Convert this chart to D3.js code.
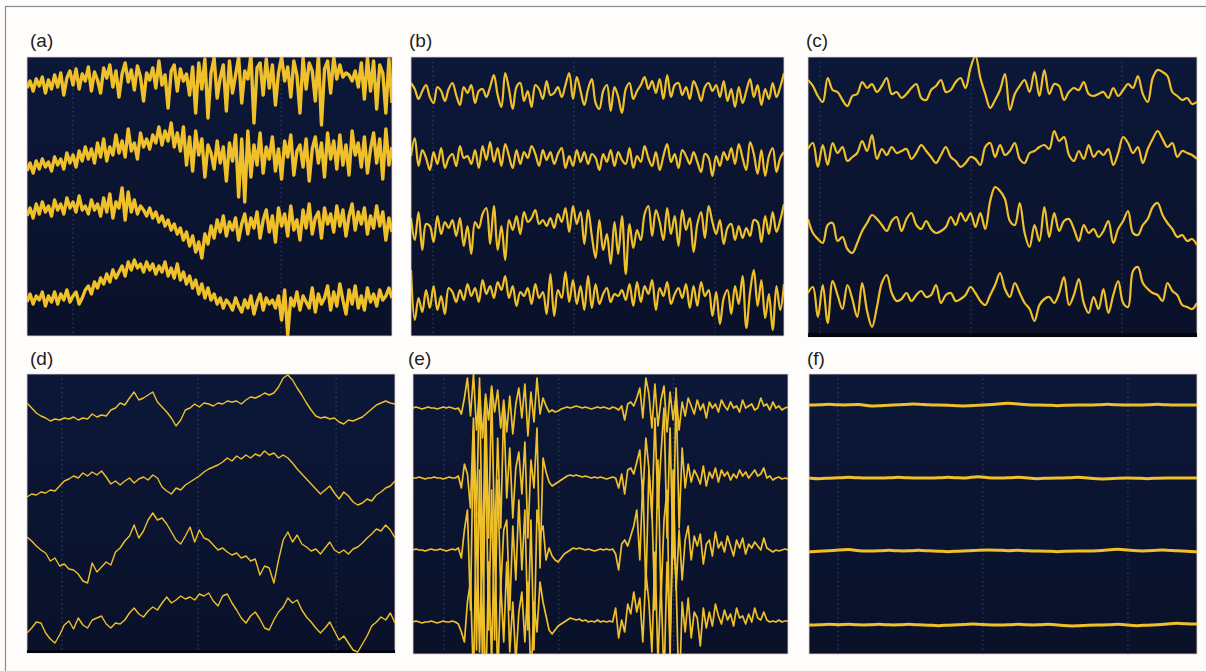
<!DOCTYPE html>
<html>
<head>
<meta charset="utf-8">
<script src="https://cdn.jsdelivr.net/npm/d3@7/dist/d3.min.js"></script>
<style>
  body { margin: 0; background: #fdfcfb; }
  svg { display: block; }
</style>
</head>
<body>
<div id="chart"></div>
<script>
// panel labels
const labels = ['(a)', '(b)', '(c)', '(d)', '(e)', '(f)'];

// channel offsets (baseline of each trace, in panel units from the bottom)
const offsetsA = [253, 179, 114, 46];
const offsetsB = [243, 176, 106, 36];
const offsetsC = [247, 184, 110, 40];
const offsetsD = [243, 173, 108, 35];
const offsetsE = [246, 176, 104, 32];
const offsetsF = [249, 176, 103, 29];

// time divisions (fraction of the window) shown as dotted lines
const gridA = [0.126, 0.696];
const gridB = [0.059, 0.437, 0.815];
const gridC = [0.031, 0.419, 0.807];
const gridD = [0.095, 0.465, 0.840];
const gridE = [0.083, 0.389, 0.695];
const gridF = [0.075, 0.448, 0.822];

// (a) traces
const chA1 = [-5, 2, -8, 4, -3, 6, -10, 3, -6, 8, -4, 10, -12, 5, 12, -2, 14, -6, 9, 2,
  16, -8, 11, 3, -10, 15, 5, 18, -4, 12, -14, 9, 20, 1, 13, -7, 17, 6, -18, 10,
  3, 15, -5, 22, -2, 8, -25, 12, 18, -8, 14, 2, 9, -12, 16, -30, 20, -6, 24, -35,
  10, 25, -15, 5, 18, -28, 22, -10, 8, 26, -20, 12, 4, 28, -40, 15, 20, -12, 24, -5,
  18, -22, 10, 26, 2, 16, -14, 22, 8, -30, 25, -6, 20, 12, -18, 28, -42, 14, 22, -10,
  26, 4, 18, 6, 10, 8, 2, 12, -4, 20, -16, 25, -8, 22, -26, 18, 10, -30, 24, -20];
const chA2 = [-14, -6, -16, -4, -12, -2, -10, -5, -14, 0, -8, -2, -12, 4, -6, 2, -10, 6, -4, 10,
  -2, 8, -6, 14, 0, 18, -4, 10, 2, 22, 4, 16, 0, 28, 6, 14, -2, 24, 10, 18,
  8, 22, 14, 30, 12, 26, 16, 34, 10, 24, 6, 30, -8, 20, -14, 26, 2, 18, -20, 12,
  4, -12, 16, -6, 10, -24, 14, -4, 22, -40, 18, -45, 26, -20, 12, -8, 24, -16, 10, -2,
  20, -14, 8, -22, 16, 0, 22, -18, 6, 12, -10, 18, -24, 8, 20, -6, 14, -20, 24, -2,
  16, -12, 22, -8, 12, -18, 26, 2, 14, -10, 20, -16, 8, 24, -6, 18, -22, 28, -8, 10];
const chA3 = [6, 14, 4, 18, 8, 20, 10, 16, 6, 22, 12, 18, 8, 24, 14, 20, 10, 26, 12, 16,
  8, 22, 12, 18, 6, 24, 10, 28, 4, 20, 14, 34, 2, 30, 10, 22, 8, 16, 12, 6,
  14, 4, 10, 0, 6, -4, 2, -8, -2, -12, -6, -18, -10, -24, -14, -30, -20, -36, -12, -22,
  -4, -16, 2, -10, 6, -14, 0, -8, 4, -18, -2, 8, -12, 4, -6, 10, -16, 2, 12, -10,
  6, -20, 14, -4, 8, -14, 16, -8, 2, -18, 12, -6, 18, -12, 4, 10, -16, 14, -2, 8,
  -10, 16, -4, 12, -14, 6, 18, -8, 10, -2, 14, -12, 6, -6, 16, -4, 10, -18, 4, -10];
const chA4 = [-12, -4, -14, -6, -10, -2, -16, -6, -12, -2, -14, -4, -10, 0, -12, -6, -2, -14, -8, 0,
  4, -4, 8, 2, 12, 6, 16, 8, 20, 12, 18, 24, 14, 28, 20, 30, 22, 26, 18, 28,
  20, 26, 16, 24, 18, 28, 14, 22, 12, 26, 10, 18, 6, 14, 2, 10, -4, 6, -8, 2,
  -10, -4, -14, -8, -18, -10, -14, -20, -8, -16, -22, -10, -18, -6, -24, -12, -4, -20, -8, -14,
  -10, -18, -6, -30, 0, -45, -8, -16, -2, -20, -6, -12, -18, 2, -22, -4, -14, -8, 4, -20,
  -2, -16, 6, -10, -24, 0, -14, 4, -18, -6, -20, 2, -12, -4, -16, 0, -10, -6, 2, -8];

// (b) traces
const chB1 = [10, 4, -6, 2, 8, -4, -10, 6, 2, -8, 4, 10, -2, -12, 6, 0, 8, -10, 2, 4,
  -4, 6, 18, -2, -14, 20, 4, -16, 6, 10, -8, 2, -14, 8, 4, -6, 12, -2, 0, 6,
  -4, 8, 20, -6, 16, 2, -12, 4, 14, -10, -16, 2, 8, -18, 6, -4, -20, 4, 10, -6,
  2, 8, 16, 4, 12, 0, 14, -6, 18, -4, 8, 10, -2, 6, -6, 12, 4, -8, 6, 10,
  2, 8, -4, 12, -8, 4, -14, 6, -10, 2, 14, -4, 8, -12, 4, -6, 10, -4, 6, 20];
const chB2 = [4, 22, -6, 10, 2, -10, 8, -4, 12, -8, 2, 6, -6, 14, 2, 4, -4, 10, -8, 14,
  0, 18, -2, 12, -6, 16, 4, -8, 10, -4, 8, 2, 14, 6, -6, 10, 0, 8, -4, 6,
  12, -8, 4, -6, 10, -2, 8, -4, 6, 2, -10, 6, -2, 10, -6, 8, 0, -4, 12, -8,
  4, -2, 14, 2, -6, 8, -10, 4, 16, -2, 6, -8, 10, 4, -4, 8, -2, -12, 6, 2,
  -16, 4, -6, 8, 0, 12, -4, 16, 2, -10, 18, 6, -14, 10, -16, 4, 12, -12, 2, 8];
const chB3 = [12, -10, 18, -20, 6, 4, -12, 14, -4, 8, 2, 10, -6, 12, -16, 4, -24, 8, 2, 16,
  22, -14, 24, -20, 4, -30, 10, 0, 14, -4, 18, 8, 12, 20, 6, 10, 4, 12, 2, 16,
  8, 22, -2, 24, 6, 18, -14, 20, -6, -28, 10, -20, -4, -34, 8, -24, 14, -44, 6, -18,
  0, -10, 16, 24, -6, 20, 8, -10, 22, -4, 14, -16, 20, 0, 12, -22, 6, 18, -8, 24,
  8, -4, 10, -14, 2, 6, -10, 4, -8, 2, -6, 10, 8, -12, 14, -4, 18, -2, 10, 26];
const chB4 = [30, -20, 2, -12, 10, -8, 14, -10, 4, -14, 12, 8, -2, 10, 0, 16, 4, 12, -2, 20,
  6, 14, 2, 18, 10, 24, 2, 14, -6, 8, 4, 12, -4, 16, 2, 8, -14, 26, -16, 10,
  2, 28, -2, 20, -4, 14, -10, 24, -8, 16, -4, 6, 12, -2, 6, 4, 10, 0, 16, -6,
  18, -2, 14, 6, 20, -10, 12, 4, 18, -4, 6, 12, 2, 16, -8, 14, -6, 18, 4, 10,
  -16, 8, -24, 2, 10, -14, 14, -4, 24, -28, 8, 30, -6, 20, -18, 6, -30, 14, -10, 16];

// (c) traces
const chC1 = [10, 4, -6, -12, 12, 0, -2, -10, -16, -6, -4, 8, 2, 6, -2, 4, 12, -4, -2, -8,
  -4, 2, 6, -8, -10, 0, 4, 10, -2, 0, 8, 12, 2, 22, 34, 12, -4, -18, -10, 0,
  16, -20, -4, 4, 10, -2, 18, -6, 20, -4, 6, 4, -10, -2, 2, 0, 8, -4, -6, -4,
  -2, -8, 2, -6, 0, 6, 2, 14, -4, -12, 12, 20, 18, 14, -2, -6, -10, -8, -14, -12];
const chC2 = [4, 10, -14, 8, -12, 10, 0, 6, -8, -4, 0, 12, 2, 18, -6, 4, -2, 6, 0, 2,
  4, -6, 0, 8, 2, -4, -10, -2, 6, -4, -8, -14, -10, -4, -6, -12, 6, 10, -4, 8,
  -2, 2, 10, -6, -10, 0, 2, 6, 8, 4, 22, 12, 16, -2, -8, 2, -6, 8, -4, 2,
  -2, 4, -12, 0, 16, 10, 0, 6, -10, 4, 14, 22, 14, 6, 10, -4, 2, 0, -2, -6];
const chC3 = [8, -6, -12, -16, 2, 4, -14, -10, -22, -26, -16, -4, 4, 12, 8, 2, -4, 6, 10, -4,
  8, 14, 2, -2, 6, -2, -6, -4, 0, 10, 2, 14, 6, 14, 0, 14, -2, 26, 40, 36,
  28, 6, 2, 24, -6, -20, 2, -14, 20, -10, 14, -4, 6, 8, -2, -14, 2, -6, -2, -10,
  -4, 6, -16, -2, 6, 16, -6, -8, 2, 8, 20, 24, 12, 4, -2, -10, -8, -14, -12, -18];
const chC4 = [4, 10, -20, 12, -26, 16, 2, -12, 12, -2, -20, 14, -14, -30, -10, 14, 22, 4, -4, -2,
  4, -4, 2, 6, 0, 2, 12, -6, 2, 4, -4, -2, 2, 10, 4, -4, -8, 2, 12, 24,
  8, 0, 14, 4, -6, -12, -24, -8, -2, 0, -6, 4, 20, -8, 2, 18, -6, -16, 0, -12,
  8, -16, 2, 16, -6, -10, 26, 30, 14, 8, 4, 2, -4, 14, 6, 2, -8, -10, -12, -6];

// (d) traces
const chD1 = [7, 2, -3, -6, -8, -11, -9, -10, -8, -9, -7, -10, -8, -9, -4, -7, -5, -6, 0, 2,
  7, 5, 12, 18, 10, 12, 15, 18, 8, 3, -2, -8, -16, -10, 0, 2, 6, 3, 7, 6,
  4, 7, 6, 9, 8, 9, 6, 10, 13, 12, 14, 17, 15, 17, 23, 32, 35, 30, 22, 15,
  7, 0, -6, -8, -7, -9, -8, -12, -14, -10, -11, -9, -7, -3, 1, 5, 7, 9, 7, 6];
const chD2 = [-17, -14, -15, -12, -13, -10, -11, -6, -1, 1, 4, 2, 7, 4, 8, 5, 9, 3, -4, -1,
  -5, -1, 2, -3, 1, 3, 0, 5, 2, -7, -11, -14, -8, -10, -5, -2, 1, 4, 8, 11,
  13, 15, 18, 22, 19, 24, 21, 25, 22, 26, 24, 29, 25, 27, 22, 25, 22, 17, 11, 6,
  1, -4, -9, -14, -10, -6, -13, -19, -12, -16, -22, -25, -23, -19, -21, -15, -12, -8, -6, -1];
const chD3 = [8, 4, -1, -5, -8, -16, -13, -21, -19, -24, -25, -29, -36, -38, -18, -27, -22, -17, -20, -7,
  -3, 4, 9, 20, 7, 14, 25, 32, 25, 27, 21, 13, 5, 1, 9, 18, 3, 15, 7, 5,
  0, -5, -3, -7, -10, -8, -13, -11, -16, -14, -30, -21, -23, -38, -15, 5, 13, 3, 10, 1,
  -2, -6, -4, -9, -3, 3, -5, -8, -5, -9, -4, -2, 2, 7, 11, 16, 14, 20, 15, 7];
const chD4 = [-15, -10, -4, -5, -15, -21, -25, -17, -7, -3, -11, 0, -7, -10, -2, 0, 2, -6, -10, -5,
  -6, -2, 5, 10, 4, 1, 7, 11, 8, 15, 21, 15, 18, 22, 19, 21, 18, 24, 22, 25,
  17, 12, 22, 24, 15, 8, 0, -5, 2, 6, -1, -10, -12, -2, 6, 11, 20, 15, 18, 8,
  1, -4, -10, -15, -10, -4, -13, -22, -18, -25, -32, -34, -26, -18, -8, -4, 1, -2, 5, -5];

// (e) traces
const chE1 = [0, 1, 0, -1, 0, 1, 0, 0, -1, 0, 1, 0, 1, 0, -1, 0,
  -6, 10, 30, -8, 34, -22, 20, -30, 14, -12, 22, -4, 18, -20, 8, -24, 12, -26, 4, 20, -10, 24, -28, 16, -14, 30, -6, 10, 2, -4,
  -2, -4, -3, -1, 0, 1, 0, 1, 2, 1, 0, 1, 0, -1, 0, 1, 0, 1, 0, -1, 1, 0, -2, 2,
  -12, 4, 6, 2, 10, 20, -10, 30, 14, -20, 24, -18, 8, 22, -24, 16, -12, 14, -22, 6, -8, 10,
  2, -6, 8, -2, 4, -10, 6, 0, 4, -4, 8, 2, -2, 6, 0, 2, -4, 8, 0, 2, 4, -2, 0, 10, 2, 4, -2, 6, 0, 2, -2, 0, 1];
const chE2 = [0, 0, 1, 0, -1, 0, 0, 1, 0, 0, -1, 0, 1, 0, 0, 2,
  -10, 14, 4, -30, 60, -40, 100, -90, 80, -60, 90, -70, 40, -50, 70, -20, 30, -40, 10, 26, -16, 36, -60, 18, -10, 50, -90, 20, 6, -4,
  -8, -6, -4, -2, 0, 2, 3, 2, 3, 2, 1, 2, 1, 0, 1, 0, 1, 0, -1, 0, 1, 0, -10, 4,
  -16, 8, 10, 4, 16, 28, -20, 40, 10, -40, 60, -30, 24, 70, -60, 50, -80, 90, -50, 30, -10, 14,
  -4, 8, 2, -6, 12, -8, 6, 0, 10, -4, 8, 2, 6, -2, 4, 0, 8, 2, 6, 0, 4, 8, 2, 4, 10, 0, 2, -2, 0, 1, -1, 0, -1];
const chE3 = [0, 1, 0, 0, -1, 0, 1, 0, 0, 1, 0, -1, 0, 1, 0, 2,
  -8, 20, 40, -60, 120, -100, 80, -120, 110, -80, 60, -90, 70, -40, 20, 30, -60, 24, -30, 50, -20, 40, -80, 30, -100, 40, 16, 24, -10, 2,
  -6, -10, -12, -8, -4, -2, 0, 2, 1, 2, 1, 0, 1, 0, -1, 0, 1, 0, 1, 0, 1, -4, -20, 6,
  10, 4, 14, 24, 40, -10, 70, -40, 80, 40, -60, 90, -50, 30, 60, -110, 80, -40, 20, -30, 10, 24,
  -10, 14, 4, 16, -14, 6, 10, -6, 18, 2, 8, -2, 14, 4, -6, 10, 2, 12, -4, 6, 2, 8, 4, 0, 12, 2, 0, -2, 0, -1, 0, 1, 0];
const chE4 = [0, 1, 0, -1, 0, 0, 1, 0, -1, 0, 1, 0, 0, 1, 0, -2,
  -10, -20, 20, 40, -60, 110, -30, 90, -80, 60, -40, 100, -60, 40, -20, 60, -30, 20, -40, 10, 30, -20, 40, -60, 20, -10, 40, 20, 6, -8,
  -12, -8, -4, -2, 0, 2, 4, 3, 2, 3, 1, 2, 0, 1, 0, 2, 0, 1, 0, 1, 0, 14, -16, 2,
  -10, 18, 8, 30, 10, 24, -20, 50, 20, -30, 70, -40, 40, -60, 60, -20, 90, 40, -80, 20, -10, 24,
  -16, 10, 4, -24, 14, -6, 10, -4, 18, 6, -2, 12, 2, 8, -4, 14, 4, 6, -2, 8, 0, 14, 4, 2, 10, 2, 0, 1, 0, 2, 0, 1, 1];

// (f) traces
const chF1 = [0, 0, 1, 0, 0, 1, -1, -1, 0, 0, 1, 1, 0, 0, 0, -1, -1, 0, 0, 1, 2, 1, 0, 0, 0, -1, 0, 0, 0, 0, 1, 0, 0, 0, 0, 1, 0, 0, 0, 0];
const chF2 = [0, -1, 0, 0, 1, 0, 0, 0, 0, 1, 0, 0, 0, 0, 1, 0, 0, 2, 0, 0, 0, 1, 0, -1, 0, 0, 0, 1, 0, -1, -1, 0, 0, 0, -1, 0, 0, 0, 0, 0];
const chF3 = [-1, 0, 0, 1, 2, 0, 0, 0, 1, 0, 0, 1, 0, 0, -1, 0, 0, 1, 1, 1, 0, 1, 0, 0, 0, -1, 0, 0, 0, 0, 1, 2, 1, 0, 0, 1, 1, 0, 0, -1];
const chF4 = [0, 0, 1, 0, 1, 0, 0, 1, 0, 0, 1, 0, 0, -1, 0, 0, 1, 1, 0, 0, 0, 1, 0, 0, 1, 0, -1, -1, 0, 0, 0, 1, 0, -1, 0, 0, 1, 2, 1, 1];

const width = 1206, height = 671;
const svg = d3.select('#chart').append('svg')
    .attr('width', width)
    .attr('height', height);

const defs = svg.append('defs');

// outer frame
svg.append('rect')
    .attr('x', 5.5).attr('y', 6.5)
    .attr('width', 1220).attr('height', 690)
    .attr('fill', '#fefdfc')
    .attr('stroke', '#8a8a8a')
    .attr('stroke-width', 1.2);

// background gradient of the scope panels
const grad = defs.append('linearGradient')
    .attr('id', 'bg').attr('x1', 0).attr('x2', 0).attr('y1', 0).attr('y2', 1);
grad.append('stop').attr('offset', '0%').attr('stop-color', '#0c1839');
grad.append('stop').attr('offset', '100%').attr('stop-color', '#0a1129');

const panels = [
    {label: labels[0], x0: 27, x1: 392, y0: 57, y1: 336, traces: [chA1, chA2, chA3, chA4], offsets: offsetsA, grid: gridA, stroke: 3.4, curve: d3.curveLinear, lx: 30, ly: 47, strip: 0},
    {label: labels[1], x0: 411, x1: 784, y0: 57, y1: 336, traces: [chB1, chB2, chB3, chB4], offsets: offsetsB, grid: gridB, stroke: 2.2, curve: d3.curveCatmullRom, lx: 409, ly: 47, strip: 0},
    {label: labels[2], x0: 808, x1: 1197, y0: 57, y1: 337, traces: [chC1, chC2, chC3, chC4], offsets: offsetsC, grid: gridC, stroke: 2.2, curve: d3.curveCatmullRom, lx: 806, ly: 47, strip: 4},
    {label: labels[3], x0: 27, x1: 395, y0: 374, y1: 653, traces: [chD1, chD2, chD3, chD4], offsets: offsetsD, grid: gridD, stroke: 1.4, curve: d3.curveLinear, lx: 30, ly: 365, strip: 3},
    {label: labels[4], x0: 413, x1: 788, y0: 374, y1: 654, traces: [chE1, chE2, chE3, chE4], offsets: offsetsE, grid: gridE, stroke: 1.7, curve: d3.curveLinear, lx: 408, ly: 365, strip: 0},
    {label: labels[5], x0: 809, x1: 1197, y0: 374, y1: 654, traces: [chF1, chF2, chF3, chF4], offsets: offsetsF, grid: gridF, stroke: 3, curve: d3.curveBasis, lx: 807, ly: 365, strip: 0}
];

panels.forEach(function (p, pi) {
    const g = svg.append('g');

    // label
    svg.append('text')
        .attr('x', p.lx).attr('y', p.ly)
        .attr('font-family', 'Liberation Sans, Arial, sans-serif')
        .attr('font-size', 19)
        .attr('fill', '#1e1e1e')
        .text(p.label);

    // clip so that large bursts stay inside the screen
    defs.append('clipPath')
        .attr('id', 'clip' + pi)
        .append('rect')
        .attr('x', p.x0).attr('y', p.y0)
        .attr('width', p.x1 - p.x0).attr('height', p.y1 - p.y0);

    g.append('rect')
        .attr('x', p.x0).attr('y', p.y0)
        .attr('width', p.x1 - p.x0).attr('height', p.y1 - p.y0)
        .attr('fill', 'url(#bg)')
        .attr('stroke', '#ecd2c8')
        .attr('stroke-width', 0.8);

    if (p.strip) {
        g.append('rect')
            .attr('x', p.x0).attr('y', p.y1 - p.strip)
            .attr('width', p.x1 - p.x0).attr('height', p.strip)
            .attr('fill', '#03060e');
    }

    // dotted time divisions
    const gx = d3.scaleLinear().domain([0, 1]).range([p.x0, p.x1]);
    g.selectAll('.grid')
        .data(p.grid)
        .enter().append('line')
        .attr('class', 'grid')
        .attr('x1', function (d) { return gx(d); })
        .attr('x2', function (d) { return gx(d); })
        .attr('y1', p.y0).attr('y2', p.y1 - p.strip)
        .attr('stroke', '#34486e')
        .attr('stroke-width', 1)
        .attr('stroke-dasharray', '1.5,3');

    const yScale = d3.scaleLinear()
        .domain([0, p.y1 - p.y0])
        .range([p.y1, p.y0]);

    const traces = g.append('g').attr('clip-path', 'url(#clip' + pi + ')');

    p.traces.forEach(function (trace, ti) {
        const xScale = d3.scaleLinear()
            .domain([0, trace.length - 1])
            .range([p.x0, p.x1]);
        const line = d3.line()
            .x(function (d, i) { return xScale(i); })
            .y(function (d) { return yScale(p.offsets[ti] + d); })
            .curve(p.curve);
        traces.append('path')
            .datum(trace)
            .attr('d', line)
            .attr('fill', 'none')
            .attr('stroke', '#f0c02a')
            .attr('stroke-width', p.stroke)
            .attr('stroke-linejoin', 'round');
    });
});
</script>
</body>
</html>
